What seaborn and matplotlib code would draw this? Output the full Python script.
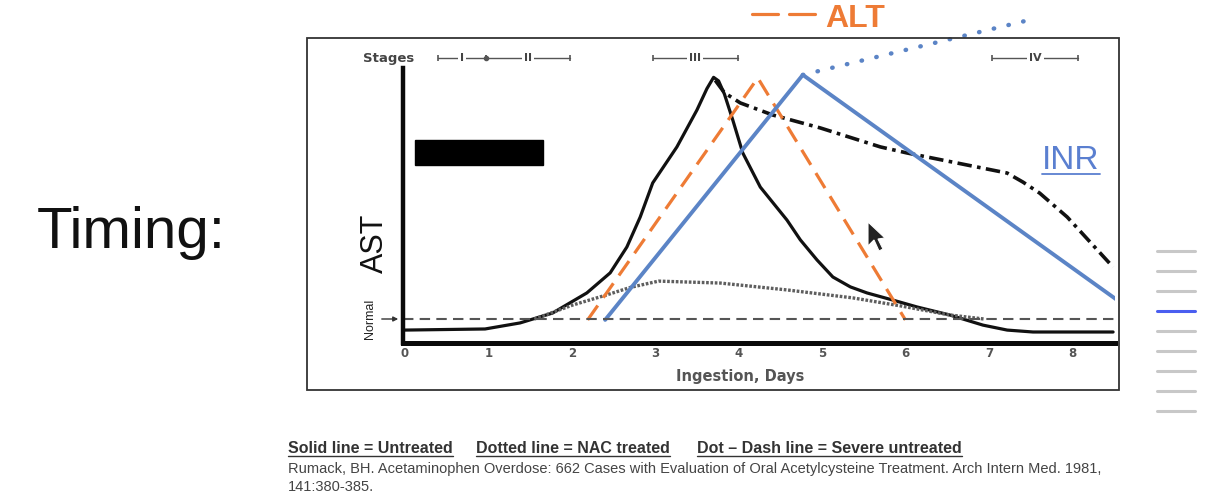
import matplotlib.pyplot as plt
import seaborn as sns
from matplotlib.patches import Rectangle, Polygon
from matplotlib.lines import Line2D

sns.set_theme(style="white")
plt.rcParams["font.family"] = ["Liberation Sans", "DejaVu Sans"]

# values: days after ingestion vs. relative level (0-100)
untreated_days = [0.00, 0.96, 1.38, 1.77, 2.18, 2.46, 2.66, 2.82, 2.97, 3.26, 3.50, 3.62,
                  3.70, 3.76, 3.83, 3.93, 4.05, 4.26, 4.58, 4.74, 4.94, 5.13, 5.34, 5.54,
                  5.85, 6.14, 6.53, 6.93, 7.22, 7.53, 8.49]
untreated_level = [4.7, 5.1, 7.3, 10.9, 18.2, 25.5, 34.9, 45.8, 58.2, 71.3, 84.7, 92.5,
                   96.6, 95.3, 90.5, 81.1, 69.1, 56.7, 44.7, 37.5, 30.2, 24.0, 20.4, 18.2,
                   15.6, 13.1, 10.2, 6.5, 4.7, 4.0, 4.0]
nac_days = [1.55, 2.01, 2.42, 2.70, 3.04, 3.78, 4.58, 5.37, 5.94, 6.53, 6.95]
nac_level = [8.7, 13.8, 17.5, 20.2, 22.5, 21.8, 19.3, 16.4, 13.5, 10.2, 8.7]
severe_days = [3.72, 3.83, 4.02, 4.41, 4.98, 5.70, 6.02, 7.22, 7.41, 7.61, 7.94, 8.49]
severe_level = [95.5, 91.0, 87.3, 82.9, 78.2, 71.3, 69.1, 61.8, 58.5, 54.5, 45.8, 27.6]
alt_days = [2.19, 4.23, 6.00]
alt_level = [8.4, 96.4, 8.4]
inr_days = [2.40, 4.77, 8.54]
inr_level = [8.4, 97.5, 15.6]
inr_proj_days = [4.77, 7.49]
inr_proj_level = [97.5, 117.5]
normal_level = 8.6
day_ticks = list(range(9))

stage_names = ["I", "II", "III", "IV"]
stage_start = [0.40, 0.97, 2.97, 7.04]
stage_end = [0.97, 1.98, 3.99, 8.07]

footer_parts = ["Solid line = Untreated", "Dotted line = NAC treated",
                "Dot \u2013 Dash line = Severe untreated"]
citation = ("Rumack, BH. Acetaminophen Overdose: 662 Cases with Evaluation of Oral "
            "Acetylcysteine Treatment. Arch Intern Med. 1981,")
citation2 = "141:380-385."

ORANGE = "#EE7B35"
BLUE = "#5B84C6"

W, H = 1206, 500
fig = plt.figure(figsize=(W / 100, H / 100), dpi=100)
fig.patch.set_facecolor("white")


def fx(px):
    return px / W


def fy(py):
    return 1 - py / H


ax = fig.add_axes([fx(403), fy(343), (1115 - 403) / W, (343 - 68) / H])
ax.set_xlim(-0.024, 8.513)
ax.set_ylim(0, 100)
ax.set_facecolor("white")

# curves
sns.lineplot(x=untreated_days, y=untreated_level, ax=ax, color="#111111", linewidth=2.3)
sns.lineplot(x=nac_days, y=nac_level, ax=ax, color="#5e5e5e", linewidth=2.4,
             linestyle=(0, (0.8, 0.5)))
sns.lineplot(x=severe_days, y=severe_level, ax=ax, color="#111111", linewidth=2.6,
             linestyle=(0, (4, 1.5, 1, 1.5)))
sns.lineplot(x=alt_days, y=alt_level, ax=ax, color=ORANGE, linewidth=2.3,
             linestyle=(0, (5.5, 3)))
sns.lineplot(x=inr_days, y=inr_level, ax=ax, color=BLUE, linewidth=2.8)
sns.lineplot(x=inr_proj_days, y=inr_proj_level, ax=ax, color=BLUE, linewidth=3.2,
             linestyle=(0, (0.1, 3.3)), dash_capstyle="round", clip_on=False)
ax.axhline(normal_level, color="#555555", linewidth=1.5, linestyle=(0, (5, 3)))

# axes styling
for side in ["top", "right"]:
    ax.spines[side].set_visible(False)
ax.spines["left"].set_linewidth(3.2)
ax.spines["bottom"].set_linewidth(3.6)
ax.spines["left"].set_color("#0a0a0a")
ax.spines["bottom"].set_color("#0a0a0a")
ax.set_yticks([])
ax.set_xticks(day_ticks)
ax.set_xticklabels([str(d) for d in day_ticks], fontsize=8.5, fontweight="bold",
                   color="#555555", family="DejaVu Sans")
ax.tick_params(axis="x", length=0, pad=3)
ax.set_xlabel("Ingestion, Days", fontsize=10.5, fontweight="bold", color="#555555",
              family="DejaVu Sans")
ax.xaxis.set_label_coords((740 - 403) / 712, -0.095)

# redaction block
ax.add_patch(Rectangle((0.12, 64.7), 1.53, 9.1, color="black", zorder=5))

# stages bracket row
stage_y = 103.6
ax.text(-0.2, stage_y, "Stages", ha="center", va="center", fontsize=9.5,
        fontweight="bold", color="#444444", family="DejaVu Sans", clip_on=False)
for name, s, e in zip(stage_names, stage_start, stage_end):
    ax.plot([s, e], [stage_y, stage_y], color="#555555", linewidth=1.0, clip_on=False)
    ax.plot([s, e], [stage_y, stage_y], "|", color="#555555", markersize=5,
            markeredgewidth=1.2, clip_on=False)
    ax.text((s + e) / 2, stage_y, name, ha="center", va="center", fontsize=8,
            fontweight="bold", color="#444444", family="DejaVu Sans",
            bbox=dict(facecolor="white", edgecolor="none", pad=1.5), clip_on=False)
ax.plot([stage_end[0]], [stage_y], "o", color="#555555", markersize=3, clip_on=False)

# ALT / INR labels
ax.plot([4.16, 4.47, None, 4.61, 4.92], [119.6, 119.6, None, 119.6, 119.6],
        color=ORANGE, linewidth=2.3, clip_on=False)
ax.text(5.04, 117.8, "ALT", color=ORANGE, fontsize=23, fontweight="bold",
        ha="left", va="center", clip_on=False)
inr_txt = ax.text(7.64, 66.5, "INR", color="#5A7FD0", fontsize=24, ha="left",
                  va="center")

# outer frame of the pasted picture
fig.add_artist(Rectangle((fx(307), fy(390)), (1119 - 307) / W, (390 - 38) / H,
                         transform=fig.transFigure, fill=False, edgecolor="#333333",
                         linewidth=1.3))

# slide text
fig.text(fx(37), fy(248), "Timing:", fontsize=42, color="#111111", va="baseline",
         ha="left")
fig.text(fx(375), fy(243), "AST", fontsize=22, rotation=90, ha="center", va="center",
         color="#111111")
fig.text(fx(370), fy(319), "Normal", fontsize=9, rotation=90, ha="center",
         va="center", color="#222222")
ax.annotate("", xy=(fx(401), fy(319)), xytext=(fx(379), fy(319)),
            xycoords="figure fraction", textcoords="figure fraction",
            arrowprops=dict(arrowstyle="-|>", color="#333333", lw=1.0,
                            mutation_scale=7))

footer_x = [288, 476, 697]
footer_texts = []
for txt, x0 in zip(footer_parts, footer_x):
    footer_texts.append(fig.text(fx(x0), fy(453), txt, fontsize=11.5,
                                 fontweight="bold", color="#333333", va="baseline"))
fig.text(fx(288), fy(473), citation, fontsize=10.55, color="#444444", va="baseline")
fig.text(fx(288), fy(491), citation2, fontsize=10.55, color="#444444", va="baseline")

# slide navigation ticks on the right
nav_y = [251, 271, 291, 311, 331, 351, 371, 391, 411]
for i, yy in enumerate(nav_y):
    fig.add_artist(Line2D([fx(1157), fx(1195)], [fy(yy), fy(yy)],
                          color="#4a5ef0" if i == 3 else "#c8c8c8", linewidth=2.2,
                          solid_capstyle="round"))

# mouse pointer
cursor = [(868, 222), (868, 246), (874, 240), (879, 251), (883, 249), (878, 239),
          (885, 238)]
fig.add_artist(Polygon([(fx(a), fy(b)) for a, b in cursor], closed=True,
                       transform=fig.transFigure, facecolor="#222222",
                       edgecolor="white", linewidth=0.8))

# underlines measured from rendered text
fig.canvas.draw()
r = fig.canvas.get_renderer()
for t in footer_texts:
    bb = t.get_window_extent(r)
    fig.add_artist(Line2D([bb.x0 / W, bb.x1 / W], [fy(456), fy(456)],
                          color="#333333", linewidth=1.0))
bb = inr_txt.get_window_extent(r)
fig.add_artist(Line2D([bb.x0 / W, bb.x1 / W], [fy(174), fy(174)],
                      color="#5A7FD0", linewidth=1.3))

fig.savefig("out.png", dpi=100)
